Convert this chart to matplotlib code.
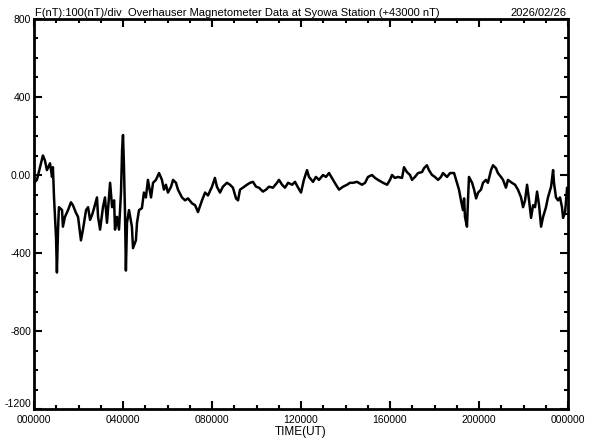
import matplotlib
matplotlib.use("Agg")
import matplotlib.pyplot as plt
from matplotlib.ticker import MultipleLocator, FuncFormatter

# time in hours UT, F minus 43000 nT
hours = [
    0.00, 0.13, 0.27, 0.40, 0.49, 0.58, 0.72, 0.81, 0.85, 0.90, 0.99, 1.03, 1.08, 1.12,
    1.26, 1.30, 1.39, 1.53, 1.66, 1.75, 1.89, 1.98, 2.11, 2.20, 2.34, 2.43, 2.52, 2.61,
    2.70, 2.83, 2.88, 2.97, 3.10, 3.19, 3.28, 3.42, 3.51, 3.60, 3.64, 3.73, 3.82, 3.91,
    3.96, 4.00, 4.04, 4.09, 4.13, 4.18, 4.27, 4.40, 4.45, 4.58, 4.63, 4.72, 4.85, 4.94,
    5.03, 5.12, 5.26, 5.35, 5.48, 5.62, 5.75, 5.84, 5.93, 6.02, 6.16, 6.25, 6.38, 6.47,
    6.65, 6.79, 6.92, 7.10, 7.24, 7.37, 7.55, 7.69, 7.82, 8.00, 8.13, 8.22, 8.36, 8.49,
    8.67, 8.81, 8.94, 9.08, 9.17, 9.26, 9.39, 9.57, 9.71, 9.84, 9.98, 10.11, 10.29, 10.43,
    10.56, 10.74, 10.92, 11.01, 11.15, 11.28, 11.42, 11.60, 11.73, 11.87, 12.00, 12.13,
    12.27, 12.36, 12.54, 12.67, 12.81, 12.99, 13.12, 13.26, 13.44, 13.57, 13.71, 13.89,
    14.07, 14.20, 14.34, 14.52, 14.74, 14.88, 15.01, 15.19, 15.33, 15.46, 15.69, 15.87,
    16.00, 16.09, 16.22, 16.36, 16.54, 16.63, 16.76, 16.90, 16.99, 17.12, 17.26, 17.44,
    17.53, 17.66, 17.75, 17.89, 18.02, 18.16, 18.29, 18.38, 18.56, 18.70, 18.88, 19.01,
    19.10, 19.19, 19.28, 19.33, 19.37, 19.46, 19.51, 19.55, 19.69, 19.78, 19.87, 19.96,
    20.09, 20.18, 20.31, 20.40, 20.54, 20.63, 20.76, 20.85, 20.99, 21.08, 21.21, 21.30,
    21.48, 21.62, 21.75, 21.89, 21.98, 22.07, 22.16, 22.25, 22.34, 22.43, 22.52, 22.61,
    22.70, 22.79, 22.88, 23.01, 23.10, 23.24, 23.33, 23.37, 23.46, 23.55, 23.64, 23.73,
    23.78, 23.87, 23.96, 24.00,
]
f_nt = [
    -40, -25, 40, 100, 75, 25, 60, -10, 40, -115, -320, -500, -280, -165,
    -180, -265, -215, -180, -140, -155, -195, -215, -335, -280, -180, -165, -230, -205,
    -170, -115, -215, -280, -165, -115, -245, -40, -165, -130, -280, -215, -280, -90,
    130, 205, 60, -195, -490, -245, -180, -265, -375, -335, -245, -180, -170, -90,
    -115, -25, -115, -40, -25, 10, -25, -75, -50, -90, -60, -25, -40, -75,
    -115, -130, -120, -145, -155, -190, -130, -90, -105, -60, -15, -60, -90, -60,
    -40, -50, -65, -120, -130, -75, -65, -50, -40, -35, -60, -65, -85, -75,
    -60, -65, -40, -25, -50, -65, -40, -50, -35, -65, -90, -25,
    25, -10, -35, -10, -25, 0, -10, 10, -25, -50, -75, -60,
    -50, -40, -40, -35, -50, -40, -10, 0, -15, -25, -40, -50,
    -25, 0, -15, -10, -15, 40, 15, 0, -25, -10, 10, 15,
    35, 50, 25, 0, -10, -25, -10, 10, -10, 10, 10, -40,
    -75, -130, -180, -120, -215, -265, -115, -10, -40, -75, -120, -90,
    -75, -40, -25, -40, 25, 50, 35, 10, -10, -25, -65, -25,
    -40, -50, -75, -115, -165, -130, -50, -130, -220, -155, -165, -85,
    -155, -265, -215, -165, -115, -60, 25, -40, -115, -130, -115, -165,
    -220, -190, -65, -115,
]

title_left = "F(nT):100(nT)/div  Overhauser Magnetometer Data at Syowa Station (+43000 nT)"
date_label = "2026/02/26"

plt.rcParams['font.family'] = ['Liberation Sans', 'DejaVu Sans']

fig = plt.figure(figsize=(5.92, 4.40), dpi=100)
ax = fig.add_axes([34 / 592, 1 - 409 / 440, 534 / 592, 390 / 440])

ax.plot(hours, f_nt, color='black', linewidth=1.8)

ax.set_xlim(0, 24)
ax.set_ylim(-1200, 800)

ax.xaxis.set_major_locator(MultipleLocator(4))
ax.xaxis.set_minor_locator(MultipleLocator(1))
ax.yaxis.set_major_locator(MultipleLocator(400))
ax.yaxis.set_minor_locator(MultipleLocator(100))
ax.xaxis.set_major_formatter(FuncFormatter(lambda v, p: f"{int(round(v)) % 24:02d}0000"))
ax.yaxis.set_major_formatter(FuncFormatter(lambda v, p: "0.00" if abs(v) < 1e-6 else f"{int(v)}"))

ax.tick_params(which='both', direction='in', top=True, right=True, width=1.5, labelsize=7.5)
ax.tick_params(which='major', length=6)
ax.tick_params(which='minor', length=3)
ax.tick_params(axis='x', which='major', pad=4)
ax.tick_params(axis='y', which='major', pad=2)

# nudge the bottom y label up a bit so it clears the first time label
for lbl in ax.get_yticklabels():
    if lbl.get_text() == "-1200":
        lbl.set_va('bottom')

for sp in ax.spines.values():
    sp.set_linewidth(2)

ax.set_xlabel("TIME(UT)", fontsize=8.5, labelpad=1)

ax.text(0.002, 1.003, title_left, transform=ax.transAxes, ha='left', va='bottom', fontsize=8)
ax.text(0.998, 1.003, date_label, transform=ax.transAxes, ha='right', va='bottom', fontsize=8)

fig.savefig("out.png", dpi=100)
